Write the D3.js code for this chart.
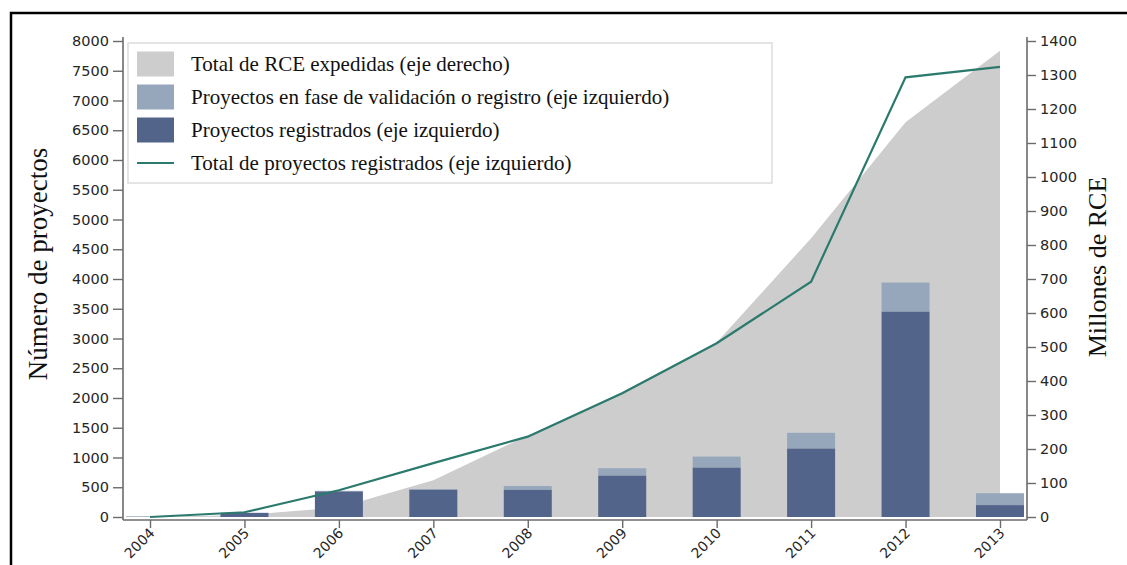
<!DOCTYPE html>
<html>
<head>
<meta charset="utf-8">
<script src="https://cdn.jsdelivr.net/npm/d3@7"></script>
<style>
  html, body { margin: 0; padding: 0; background: #fff; }
  svg { display: block; }
</style>
</head>
<body>
<svg id="chart" width="1127" height="565"></svg>
<script>
const years = ["2004","2005","2006","2007","2008","2009","2010","2011","2012","2013"];
const registered = [5, 70, 430, 455, 455, 695, 830, 1150, 3450, 200];
const pending = [5, 0, 10, 15, 65, 125, 185, 265, 490, 200];
const totalRegistered = [0, 80, 450, 905, 1350, 2080, 2920, 3955, 7390, 7565];
const rceIssued = [0, 6, 28, 108, 240, 368, 513, 820, 1161, 1371];
const leftTicks = [0,500,1000,1500,2000,2500,3000,3500,4000,4500,5000,5500,6000,6500,7000,7500,8000];
const rightTicks = [0,100,200,300,400,500,600,700,800,900,1000,1100,1200,1300,1400];
const legendLabels = [
  "Total de RCE expedidas (eje derecho)",
  "Proyectos en fase de validación o registro (eje izquierdo)",
  "Proyectos registrados (eje izquierdo)",
  "Total de proyectos registrados (eje izquierdo)"
];
const leftTitle = "Número de proyectos";
const rightTitle = "Millones de RCE";

const C = { area: "#cdcdcd", light: "#96a7bb", dark: "#526489", line: "#2c7a6d", axis: "#6b6b6b", text: "#262626" };

const svg = d3.select("#chart");
const plotL = 123, plotR = 1027, y0 = 517, yTop = 41;

const x = d3.scalePoint().domain(years).range([plotL, plotR]).padding(0.286);
const yL = d3.scaleLinear().domain([0, 8000]).range([y0, yTop]);
const yR = d3.scaleLinear().domain([0, 1400]).range([y0, yTop]);

// outer frame
svg.append("rect").attr("x", 11).attr("y", 13).attr("width", 1140).attr("height", 600)
  .attr("fill", "none").attr("stroke", "#000").attr("stroke-width", 2.5);

// area
const areaData = years.map((y, i) => ({ y, v: rceIssued[i] }));
svg.append("path").datum(areaData)
  .attr("fill", C.area)
  .attr("d", d3.area().x(d => x(d.y)).y0(yR(0)).y1(d => yR(d.v)));

// bars
const bw = 48;
const barData = years.map((y, i) => ({ y, r: registered[i], p: pending[i] }));
svg.append("g").selectAll("rect").data(barData).join("rect")
  .attr("x", d => x(d.y) - bw / 2).attr("width", bw)
  .attr("y", d => yL(d.r + d.p)).attr("height", d => yL(d.r) - yL(d.r + d.p))
  .attr("fill", C.light);
svg.append("g").selectAll("rect").data(barData).join("rect")
  .attr("x", d => x(d.y) - bw / 2).attr("width", bw)
  .attr("y", d => yL(d.r)).attr("height", d => yL(0) - yL(d.r))
  .attr("fill", C.dark);

// line
const lineData = years.map((y, i) => ({ y, v: totalRegistered[i] }));
svg.append("path").datum(lineData)
  .attr("fill", "none").attr("stroke", C.line).attr("stroke-width", 2.2)
  .attr("d", d3.line().x(d => x(d.y)).y(d => yL(d.v)));

// axes
function styleAxis(g, size) {
  g.select(".domain").attr("stroke", C.axis).attr("stroke-width", 1.6);
  g.selectAll(".tick line").attr("stroke", C.axis).attr("stroke-width", 1.4);
  g.selectAll(".tick text").attr("fill", C.text)
    .style("font-family", "'DejaVu Sans', sans-serif").style("font-size", size);
}
const fmt = d3.format("d");
const gL = svg.append("g").attr("transform", `translate(${plotL},0)`)
  .call(d3.axisLeft(yL).tickValues(leftTicks).tickFormat(fmt).tickSize(10).tickPadding(4).tickSizeOuter(0));
styleAxis(gL, "14.5px");
gL.select(".domain").attr("d", `M0,${yTop - 4}V520`);

const gR = svg.append("g").attr("transform", `translate(${plotR},0)`)
  .call(d3.axisRight(yR).tickValues(rightTicks).tickFormat(fmt).tickSize(9).tickPadding(4).tickSizeOuter(0));
styleAxis(gR, "14.5px");
gR.select(".domain").attr("d", `M0,${yTop - 4}V520`);

const gX = svg.append("g").attr("transform", `translate(0,520)`)
  .call(d3.axisBottom(x).tickSize(8).tickSizeOuter(0));
styleAxis(gX, "14px");
gX.select(".domain").attr("d", `M${plotL},0H${plotR}`);
gX.selectAll(".tick text")
  .attr("text-anchor", "end")
  .attr("dy", null).attr("y", null)
  .attr("transform", "translate(5,14) rotate(-45)");

// axis titles
svg.append("text").attr("transform", "translate(47,264) rotate(-90)")
  .attr("text-anchor", "middle")
  .style("font-family", "'Liberation Serif', 'Times New Roman', serif").style("font-size", "27px")
  .attr("fill", "#111").text(leftTitle);
svg.append("text").attr("transform", "translate(1106,267) rotate(-90)")
  .attr("text-anchor", "middle")
  .style("font-family", "'Liberation Serif', 'Times New Roman', serif").style("font-size", "26px")
  .attr("fill", "#111").text(rightTitle);

// legend
const lg = svg.append("g");
lg.append("rect").attr("x", 128).attr("y", 43).attr("width", 644).attr("height", 140)
  .attr("fill", "#fff").attr("stroke", "#dcdcdc").attr("stroke-width", 1.5);
const rowsY = [64, 97, 130, 163];
const swatchColors = [C.area, C.light, C.dark];
swatchColors.forEach((c, i) => {
  lg.append("rect").attr("x", 137).attr("y", rowsY[i] - 12.5).attr("width", 37).attr("height", 25).attr("fill", c);
});
lg.append("line").attr("x1", 137).attr("x2", 174).attr("y1", rowsY[3]).attr("y2", rowsY[3])
  .attr("stroke", C.line).attr("stroke-width", 2.2);
legendLabels.forEach((t, i) => {
  lg.append("text").attr("x", 191).attr("y", rowsY[i] + 7)
    .style("font-family", "'Liberation Serif', 'Times New Roman', serif").style("font-size", "21px")
    .attr("fill", "#111").text(t);
});
</script>
</body>
</html>
